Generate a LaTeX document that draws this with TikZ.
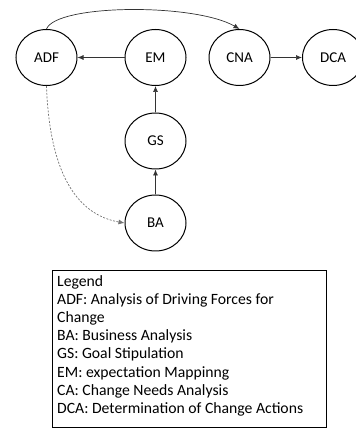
\documentclass[tikz,border=0pt]{standalone}
\usepackage{fontspec}
\setmainfont{Carlito}
\usetikzlibrary{arrows.meta,shapes.geometric}

\begin{document}
\begin{tikzpicture}[x=1pt,y=1pt,
  phase/.style={draw, ellipse, line width=1pt, minimum width=61pt, minimum height=56pt, inner sep=0pt, font=\fontsize{15}{17}\selectfont},
  flow/.style={draw=black!80, line width=.7pt, -{Latex[length=6pt,width=5pt]}},
  hint/.style={draw=black!55, dashed, dash pattern=on 2pt off 1.5pt, line width=.7pt, -{Latex[length=6pt,width=5pt]}}]
\useasboundingbox (0,0) rectangle (356,429);
% phases
\node[phase] (adf) at (46.5,371.5) {ADF};
\node[phase] (em) at (155.5,371.5) {EM};
\node[phase] (cna) at (239.5,371.5) {CNA};
\node[phase] (dca) at (333,371.5) {DCA};
\node[phase] (gs) at (155.5,288) {GS};
\node[phase] (ba) at (155.5,206) {BA};
% connectors
\draw[flow] (em) -- (adf);
\draw[flow] (gs) -- (em);
\draw[flow] (ba) -- (gs);
\draw[flow] (cna) -- (dca);
\draw[flow] (adf.north) .. controls +(10,25) and +(-45,26) .. (cna.north);
\draw[hint] (adf.south) to[out=-88,in=170] (ba.west);
% legend
\draw[line width=.8pt] (52,2) rectangle (326,159);
\node[anchor=north west, align=left, inner sep=0pt, font=\fontsize{15.7}{18.2}\selectfont] (legend) at (57,154) {Legend\\
ADF: Analysis of Driving Forces for\\
Change\\
BA: Business Analysis\\
GS: Goal Stipulation\\
EM: expectation Mappinng\\
CA: Change Needs Analysis\\
DCA: Determination of Change Actions};
\end{tikzpicture}
\end{document}
